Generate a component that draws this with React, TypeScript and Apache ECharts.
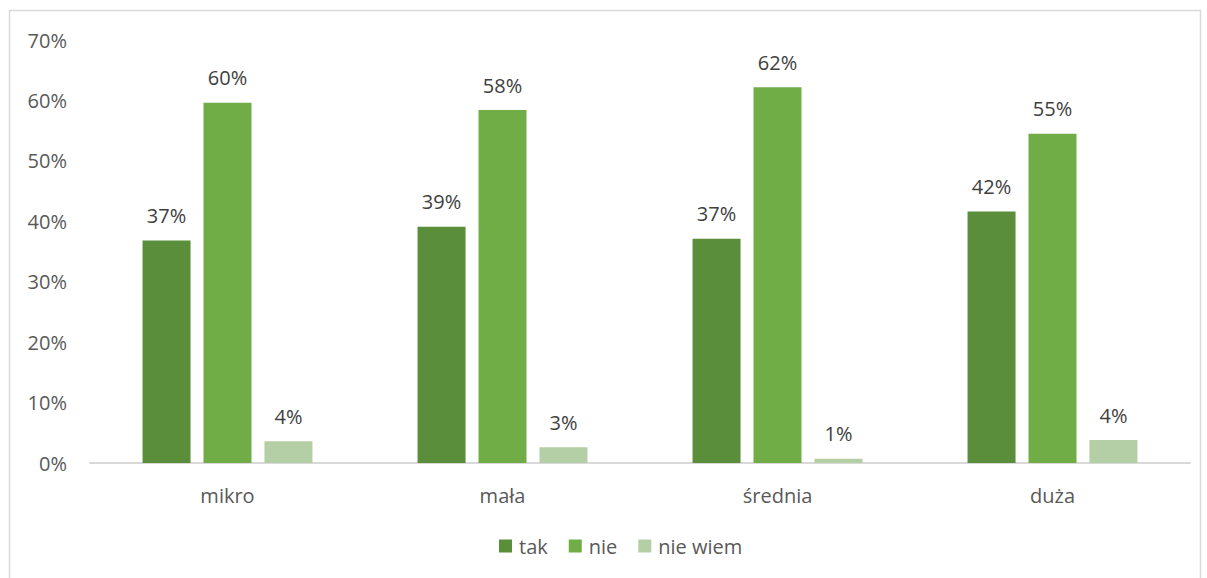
import React, { useEffect, useRef } from "react";
import * as echarts from "echarts";

const categories = ["mikro", "mała", "średnia", "duża"];
const seriesNames = ["tak", "nie", "nie wiem"];
const takValues = [36.8, 39.1, 37.1, 41.6];
const nieValues = [59.6, 58.4, 62.2, 54.5];
const nieWiemValues = [3.6, 2.6, 0.7, 3.8];
const colors = ["#5a8e3a", "#70ad47", "#b4cfa5"];

export default function App() {
  const ref = useRef<HTMLDivElement>(null);
  useEffect(() => {
    document.body.style.margin = "0";
    const chart = echarts.init(ref.current!, null, { renderer: "svg" });
    const font = "'Open Sans', 'Noto Sans', sans-serif";
    const values = [takValues, nieValues, nieWiemValues];
    chart.setOption({
      animation: false,
      textStyle: { fontFamily: font },
      graphic: [
        {
          type: "rect",
          shape: { x: 9.5, y: 10.5, width: 1191, height: 600 },
          style: { fill: "none", stroke: "#d9d9d9", lineWidth: 1.5 },
          silent: true,
        },
      ],
      grid: { left: 90, right: 17, top: 40, bottom: 115 },
      legend: {
        bottom: 17,
        left: 494,
        itemWidth: 13,
        itemHeight: 13,
        itemGap: 21,
        icon: "rect",
        textStyle: { color: "#595959", fontSize: 20, fontFamily: font, padding: [0, 0, 0, 2] },
        data: seriesNames,
      },
      xAxis: {
        type: "category",
        data: categories,
        axisLine: { lineStyle: { color: "#d9d9d9", width: 2 } },
        axisTick: { show: false },
        axisLabel: { color: "#595959", fontSize: 20, margin: 22, fontFamily: font },
      },
      yAxis: {
        type: "value",
        min: 0,
        max: 70,
        interval: 10,
        splitLine: { show: false },
        axisLine: { show: false },
        axisTick: { show: false },
        axisLabel: { color: "#595959", fontSize: 20, margin: 23, formatter: "{value}%", fontFamily: font },
      },
      series: seriesNames.map((name, i) => ({
        name,
        type: "bar",
        data: values[i],
        barWidth: 48,
        barGap: "27%",
        itemStyle: { color: colors[i] },
        label: {
          show: true,
          position: "top",
          distance: 15,
          color: "#404040",
          fontSize: 20,
          fontFamily: font,
          formatter: (p: any) => Math.round(p.value) + "%",
        },
      })),
    });
    return () => chart.dispose();
  }, []);
  return <div ref={ref} style={{ width: 1207, height: 578 }} />;
}
